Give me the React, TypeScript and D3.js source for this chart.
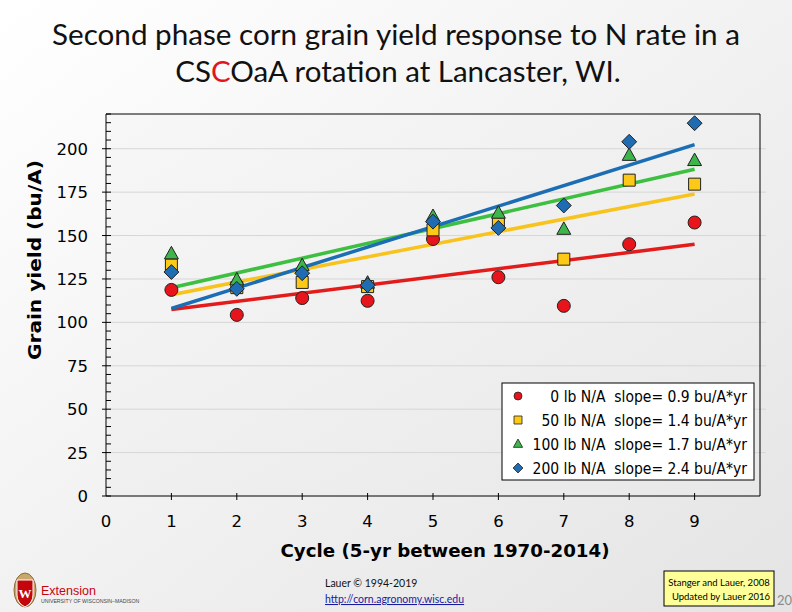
import React, { useEffect, useRef } from 'react';
import * as d3 from 'd3';

// Cycle numbers (5-yr cycles, 1970-2014)
const cycles = [1, 2, 3, 4, 5, 6, 7, 8, 9];

// Grain yield (bu/A) by N rate
const yieldN0 = [118.7, 104.3, 114.0, 112.4, 148.0, 126.0, 109.5, 145.0, 157.5];
const yieldN50 = [133.0, 120.0, 123.0, 120.6, 153.3, 156.7, 136.4, 181.9, 179.6];
const yieldN100 = [139.5, 124.5, 132.7, 122.6, 161.0, 162.9, 153.6, 196.2, 193.2];
const yieldN200 = [129.0, 119.3, 128.3, 121.4, 158.0, 154.4, 167.3, 204.0, 214.7];

const seriesLabels = ['0 lb N/A', '50 lb N/A', '100 lb N/A', '200 lb N/A'];
const slopeLabels = ['0.9', '1.4', '1.7', '2.4'];

const yTicks = [0, 25, 50, 75, 100, 125, 150, 175, 200];
const xTicks = [0, 1, 2, 3, 4, 5, 6, 7, 8, 9];

const series = [
  { values: yieldN0, shape: 'circle', fill: '#e8141b', line: '#e31b1b' },
  { values: yieldN50, shape: 'square', fill: '#fcc916', line: '#f7c31c' },
  { values: yieldN100, shape: 'triangle', fill: '#3db54a', line: '#3dbf41' },
  { values: yieldN200, shape: 'diamond', fill: '#1f6cb3', line: '#1b6db4' },
];

// least squares line through the yearly points
const fitLine = (xs: number[], ys: number[]) => {
  const mx = d3.mean(xs) as number;
  const my = d3.mean(ys) as number;
  const sxy = d3.sum(xs, (x, i) => (x - mx) * (ys[i] - my));
  const sxx = d3.sum(xs, (x) => (x - mx) * (x - mx));
  const b = sxy / sxx;
  return { a: my - b * mx, b };
};

const symbolPath = (shape: string, size: number) => {
  const s = size;
  if (shape === 'circle') return d3.symbol(d3.symbolCircle, s * s * 0.785)();
  if (shape === 'square') return `M${-s / 2},${-s / 2}h${s}v${s}h${-s}Z`;
  if (shape === 'triangle') return `M0,${-s * 0.62}L${s * 0.58},${s * 0.42}L${-s * 0.58},${s * 0.42}Z`;
  return `M0,${-s * 0.62}L${s * 0.62},0L0,${s * 0.62}L${-s * 0.62},0Z`;
};

const App: React.FC = () => {
  const svgRef = useRef<SVGSVGElement | null>(null);

  useEffect(() => {
    if (!svgRef.current) return;
    const svg = d3.select(svgRef.current);
    svg.selectAll('*').remove();

    const left = 106, right = 760, top = 114, bottom = 496;
    const x = d3.scaleLinear().domain([0, 10]).range([left, right]);
    const y = d3.scaleLinear().domain([0, 220]).range([bottom, top]);

    const defs = svg.append('defs');
    const bg = defs.append('linearGradient').attr('id', 'slideBg')
      .attr('x1', '0').attr('y1', '0').attr('x2', '1').attr('y2', '1');
    bg.append('stop').attr('offset', '0%').attr('stop-color', '#ffffff');
    bg.append('stop').attr('offset', '100%').attr('stop-color', '#e4e4e4');
    const pa = defs.append('linearGradient').attr('id', 'plotBg')
      .attr('x1', '0').attr('y1', '0').attr('x2', '1').attr('y2', '1');
    pa.append('stop').attr('offset', '0%').attr('stop-color', '#f7f7f7');
    pa.append('stop').attr('offset', '100%').attr('stop-color', '#e8e8e8');

    svg.append('rect').attr('width', 792).attr('height', 612).attr('fill', 'url(#slideBg)');

    // title
    const title = svg.append('g').attr('font-family', 'Lato, "Open Sans", sans-serif')
      .attr('font-size', 29.5).attr('fill', '#111').attr('text-anchor', 'middle');
    title.append('text').attr('x', 396).attr('y', 45)
      .attr('textLength', 688).attr('lengthAdjust', 'spacingAndGlyphs')
      .text('Second phase corn grain yield response to N rate in a');
    const t2 = title.append('text').attr('x', 398).attr('y', 82);
    t2.append('tspan').text('CS');
    t2.append('tspan').attr('fill', '#e3141b').text('C');
    t2.append('tspan').text('OaA rotation at Lancaster, WI.');

    // plot area
    svg.append('rect').attr('x', left).attr('y', top)
      .attr('width', right - left).attr('height', bottom - top)
      .attr('fill', 'url(#plotBg)');

    svg.append('g').selectAll('line').data(yTicks.filter((d) => d > 0)).enter().append('line')
      .attr('x1', left).attr('x2', right + 6)
      .attr('y1', (d) => y(d)).attr('y2', (d) => y(d))
      .attr('stroke', '#d6d6d6').attr('stroke-width', 1);

    // border top/right
    svg.append('path')
      .attr('d', `M${left},${top}H${right}V${bottom}`)
      .attr('fill', 'none').attr('stroke', '#000').attr('stroke-width', 1);

    // y axis with minor ticks every 5
    const yAxis = svg.append('g').attr('stroke', '#000').attr('stroke-width', 1);
    yAxis.append('line').attr('x1', left).attr('x2', left).attr('y1', top).attr('y2', bottom);
    yAxis.selectAll('.minor').data(d3.range(0, 221, 5)).enter().append('line')
      .attr('x1', (d) => (d % 25 === 0 ? left - 4 : left)).attr('x2', left + 5)
      .attr('y1', (d) => y(d)).attr('y2', (d) => y(d));

    svg.append('g').attr('font-family', '"DejaVu Sans", Verdana, sans-serif')
      .attr('font-size', 16.5).attr('text-anchor', 'end').attr('fill', '#000')
      .selectAll('text').data(yTicks).enter().append('text')
      .attr('x', 88).attr('y', (d) => y(d) + 6).text((d) => d);

    // x axis
    const xAxis = svg.append('g').attr('stroke', '#000').attr('stroke-width', 1);
    xAxis.append('line').attr('x1', left).attr('x2', right).attr('y1', bottom).attr('y2', bottom);
    xAxis.selectAll('.tick').data(xTicks.slice(1)).enter().append('line')
      .attr('x1', (d) => x(d)).attr('x2', (d) => x(d))
      .attr('y1', bottom - 3).attr('y2', bottom + 4);

    svg.append('g').attr('font-family', '"DejaVu Sans", Verdana, sans-serif')
      .attr('font-size', 16.5).attr('text-anchor', 'middle').attr('fill', '#000')
      .selectAll('text').data(xTicks).enter().append('text')
      .attr('x', (d) => x(d)).attr('y', 527).text((d) => d);

    // axis titles
    svg.append('text').attr('x', 445).attr('y', 557)
      .attr('font-family', '"DejaVu Sans", Verdana, sans-serif').attr('font-weight', 'bold')
      .attr('font-size', 17.5).attr('text-anchor', 'middle')
      .attr('textLength', 329).attr('lengthAdjust', 'spacingAndGlyphs')
      .text('Cycle (5-yr between 1970-2014)');
    svg.append('text').attr('transform', 'translate(41,260) rotate(-90)')
      .attr('font-family', '"DejaVu Sans", Verdana, sans-serif').attr('font-weight', 'bold')
      .attr('font-size', 17.5).attr('text-anchor', 'middle')
      .attr('textLength', 200).attr('lengthAdjust', 'spacingAndGlyphs')
      .text('Grain yield (bu/A)');

    // trend lines
    series.forEach((s) => {
      const { a, b } = fitLine(cycles, s.values);
      svg.append('line')
        .attr('x1', x(cycles[0])).attr('y1', y(a + b * cycles[0]))
        .attr('x2', x(cycles[cycles.length - 1])).attr('y2', y(a + b * cycles[cycles.length - 1]))
        .attr('stroke', s.line).attr('stroke-width', 3.5);
    });

    // points
    series.forEach((s) => {
      svg.append('g').selectAll('path').data(s.values).enter().append('path')
        .attr('transform', (d, i) => `translate(${x(cycles[i])},${y(d)})`)
        .attr('d', symbolPath(s.shape, s.shape === 'circle' ? 13 : 12))
        .attr('fill', s.fill).attr('stroke', '#222').attr('stroke-width', 1);
    });

    // legend
    const lg = svg.append('g');
    lg.append('rect').attr('x', 502).attr('y', 383).attr('width', 252).attr('height', 97)
      .attr('fill', '#fff').attr('stroke', '#000').attr('stroke-width', 1);
    series.forEach((s, i) => {
      const cy = 396 + i * 24;
      lg.append('path').attr('transform', `translate(518,${cy})`)
        .attr('d', symbolPath(s.shape, 8))
        .attr('fill', s.fill).attr('stroke', '#222').attr('stroke-width', 0.8);
      lg.append('text').attr('x', 747).attr('y', cy + 6)
        .attr('font-family', '"DejaVu Sans Condensed", "DejaVu Sans", sans-serif')
        .attr('font-size', 15.5).attr('text-anchor', 'end').attr('fill', '#000')
        .attr('xml:space', 'preserve')
        .text(`${seriesLabels[i]}  slope= ${slopeLabels[i]} bu/A*yr`);
    });

    // footer: logo
    const logo = svg.append('g');
    logo.append('ellipse').attr('cx', 25).attr('cy', 590).attr('rx', 11).attr('ry', 17)
      .attr('fill', '#c9a86a').attr('stroke', '#8a6b3a').attr('stroke-width', 1);
    logo.append('path').attr('d', 'M17,580H33V595Q33,603 25,607Q17,603 17,595Z')
      .attr('fill', '#c5050c').attr('stroke', '#fff').attr('stroke-width', 1);
    logo.append('text').attr('x', 25).attr('y', 598).attr('text-anchor', 'middle')
      .attr('font-family', '"Liberation Serif", serif').attr('font-weight', 'bold')
      .attr('font-size', 13).attr('fill', '#fff').text('W');
    logo.append('text').attr('x', 41).attr('y', 595)
      .attr('font-family', '"Liberation Sans", sans-serif').attr('font-size', 12.5)
      .attr('fill', '#c5050c').text('Extension');
    logo.append('text').attr('x', 41).attr('y', 603)
      .attr('font-family', '"Liberation Sans", sans-serif').attr('font-size', 5.2)
      .attr('fill', '#444').text('UNIVERSITY OF WISCONSIN–MADISON');

    // footer: credit
    const ft = svg.append('g').attr('font-family', 'Lato, "Liberation Sans", sans-serif').attr('font-size', 10.5);
    ft.append('text').attr('x', 325).attr('y', 587).attr('fill', '#111').text('Lauer © 1994-2019');
    ft.append('text').attr('x', 325).attr('y', 603).attr('fill', '#1a1aa0')
      .attr('text-decoration', 'underline').text('http://corn.agronomy.wisc.edu');

    svg.append('rect').attr('x', 664).attr('y', 571).attr('width', 110).attr('height', 35)
      .attr('fill', '#ffff99').attr('stroke', '#000').attr('stroke-width', 1);
    const nb = svg.append('g').attr('font-family', 'Lato, "Liberation Sans", sans-serif')
      .attr('font-size', 9.5).attr('fill', '#000').attr('text-anchor', 'middle');
    nb.append('text').attr('x', 719).attr('y', 586).text('Stanger and Lauer, 2008');
    nb.append('text').attr('x', 721).attr('y', 600).text('Updated by Lauer 2016');
    svg.append('text').attr('x', 777).attr('y', 605).attr('font-family', 'Lato, sans-serif')
      .attr('font-size', 13).attr('fill', '#8a8a8a').text('20');
  }, []);

  return (
    <svg ref={svgRef} width={792} height={612}
      style={{ position: 'absolute', left: 0, top: 0, display: 'block' }} />
  );
};

export default App;
